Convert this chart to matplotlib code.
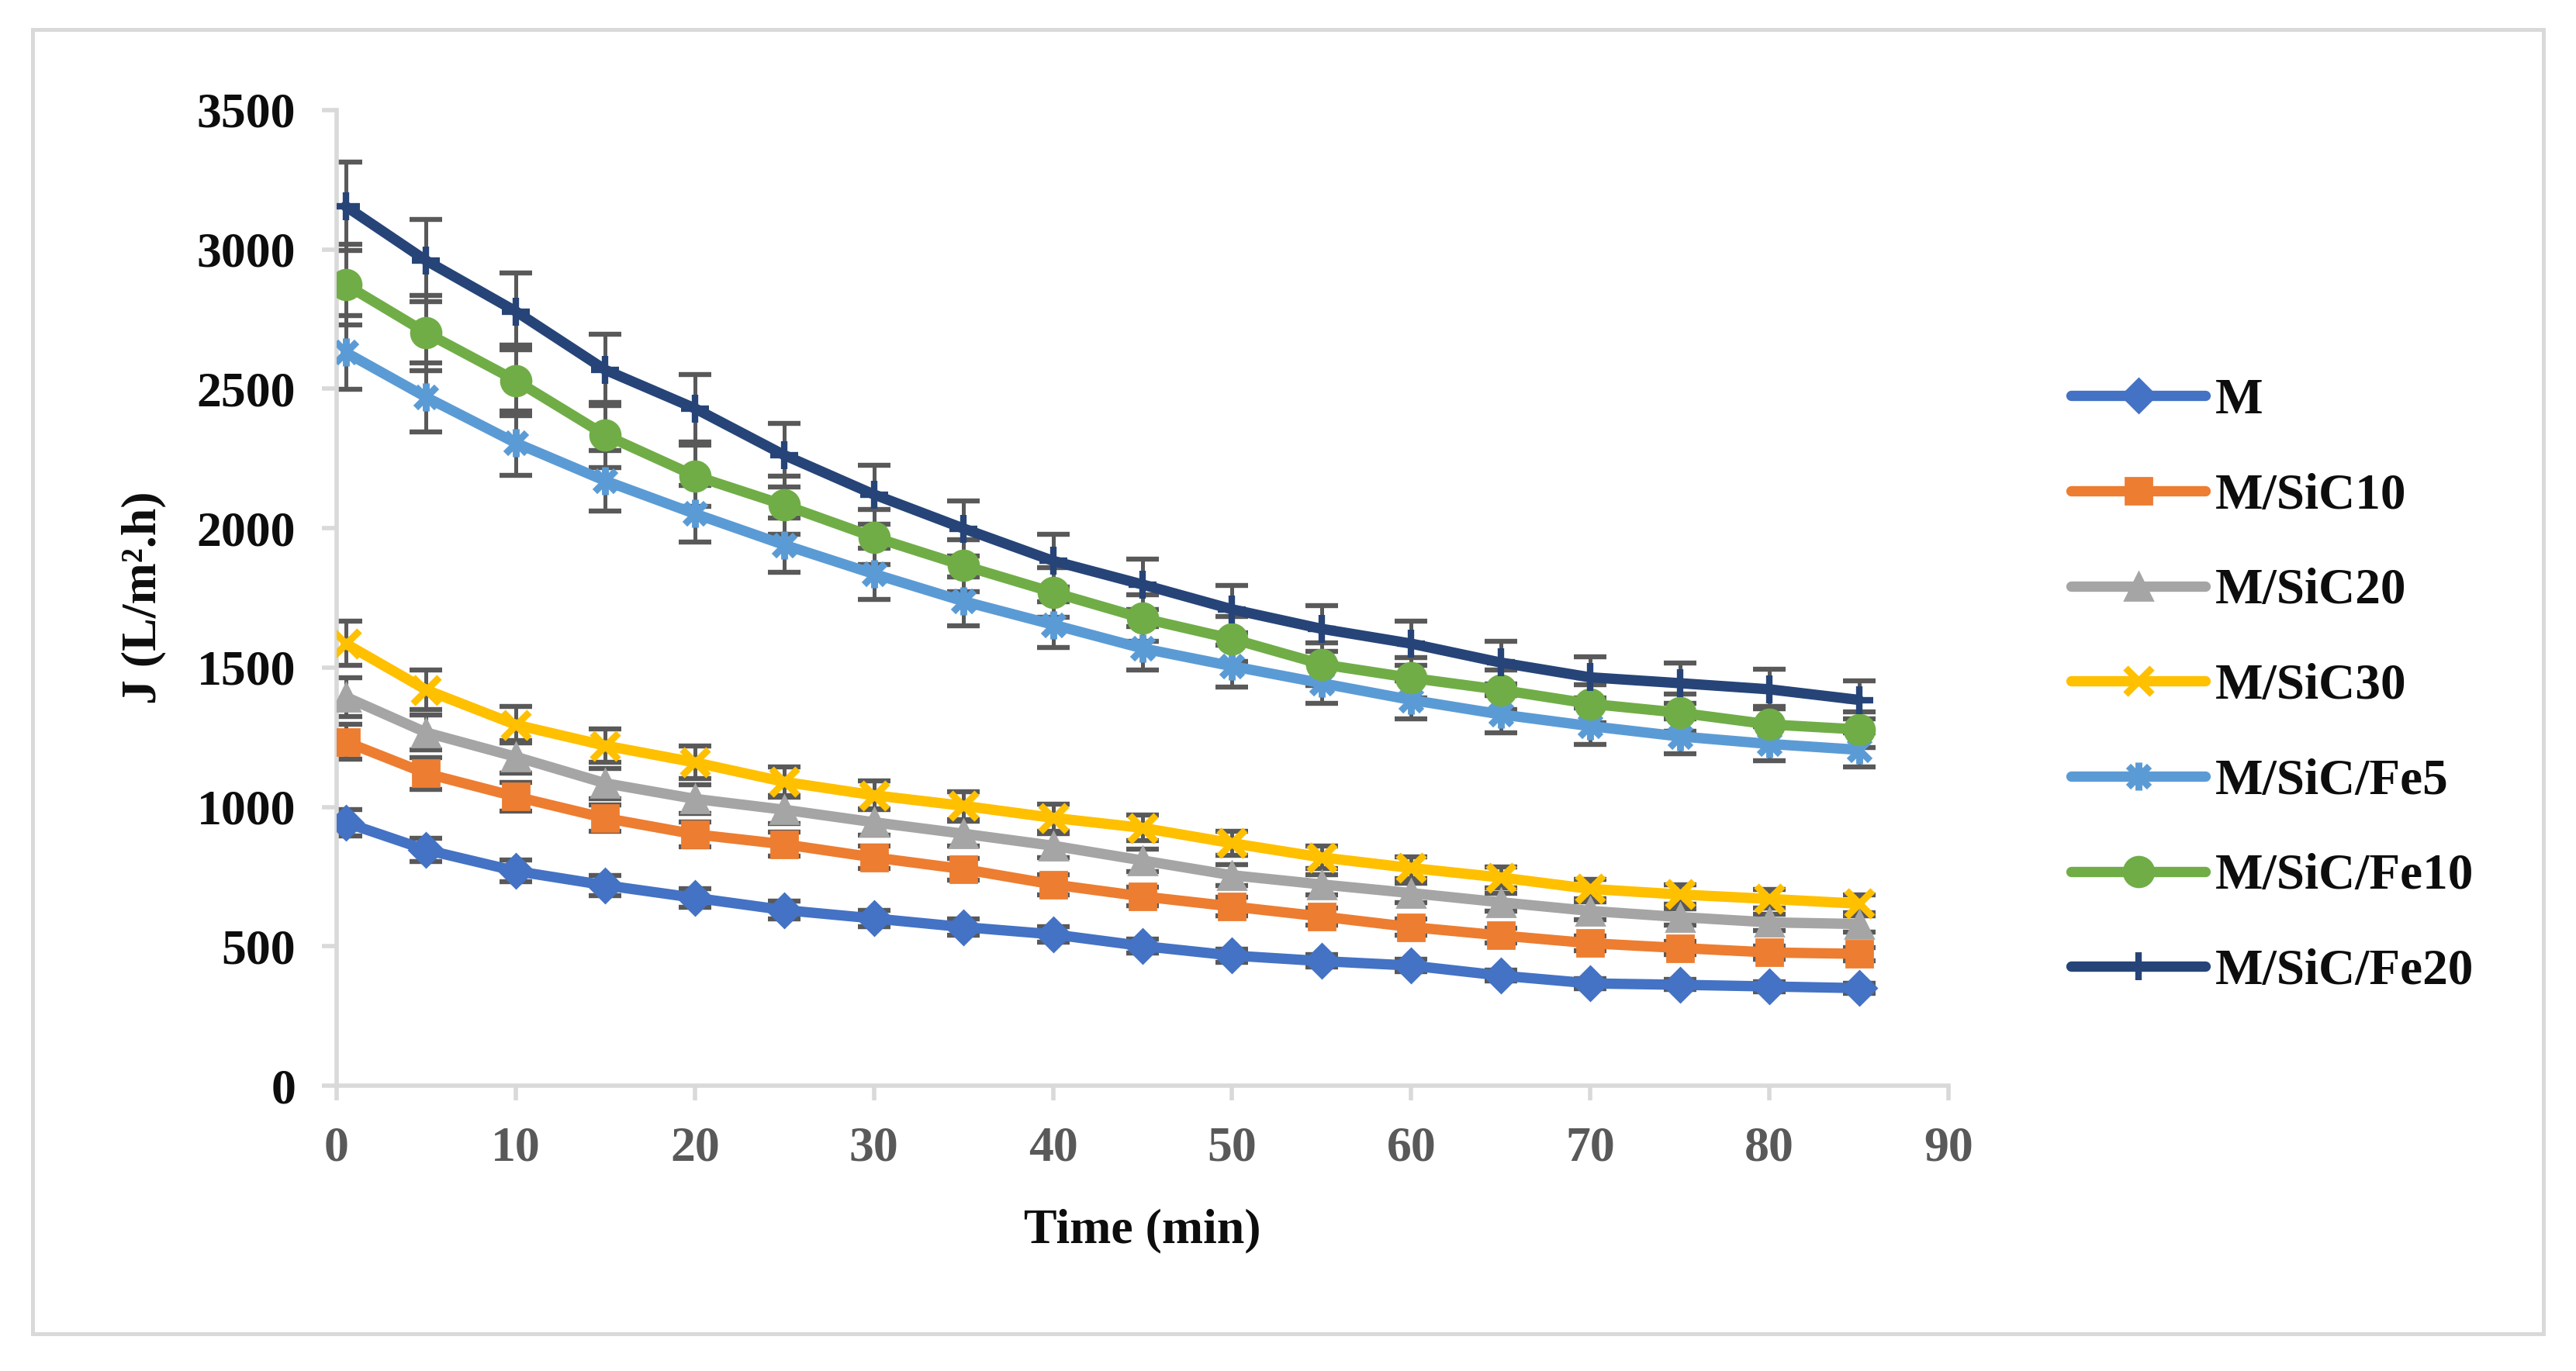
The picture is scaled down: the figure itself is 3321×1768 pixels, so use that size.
import matplotlib
matplotlib.use('Agg')
import matplotlib.pyplot as plt
from matplotlib.path import Path
from matplotlib.patches import Rectangle

# ---------------- data ----------------
time_min = [0.5, 5, 10, 15, 20, 25, 30, 35, 40, 45, 50, 55, 60, 65, 70, 75, 80, 85]
series_names = ["M", "M/SiC10", "M/SiC20", "M/SiC30", "M/SiC/Fe5", "M/SiC/Fe10", "M/SiC/Fe20"]

flux_M = [944, 846, 770, 719, 674, 630, 600, 569, 543, 501, 467, 447, 431, 395, 367, 362, 356, 350]
flux_SiC10 = [1234, 1120, 1037, 960, 902, 866, 819, 777, 722, 679, 643, 607, 569, 539, 511, 494, 478, 473]
flux_SiC20 = [1395, 1267, 1180, 1085, 1029, 990, 945, 904, 861, 808, 755, 722, 691, 658, 627, 605, 586, 580]
flux_SiC30 = [1586, 1420, 1295, 1220, 1160, 1090, 1042, 1004, 961, 925, 870, 819, 781, 747, 706, 686, 670, 653]
flux_Fe5 = [2631, 2470, 2306, 2170, 2052, 1940, 1836, 1738, 1654, 1569, 1505, 1444, 1384, 1332, 1290, 1253, 1226, 1205]
flux_Fe10 = [2874, 2701, 2530, 2334, 2188, 2083, 1968, 1866, 1770, 1677, 1603, 1512, 1463, 1420, 1370, 1338, 1296, 1278]
flux_Fe20 = [3155, 2960, 2778, 2568, 2430, 2262, 2121, 1999, 1883, 1798, 1709, 1639, 1586, 1518, 1465, 1444, 1422, 1384]

error_percent = 5  # percentage error bars

x_ticks = [0, 10, 20, 30, 40, 50, 60, 70, 80, 90]
y_ticks = [0, 500, 1000, 1500, 2000, 2500, 3000, 3500]

all_flux = [flux_M, flux_SiC10, flux_SiC20, flux_SiC30, flux_Fe5, flux_Fe10, flux_Fe20]

# ---------------- style ----------------
colors = ["#4472C4", "#ED7D31", "#A5A5A5", "#FFC000", "#5B9BD5", "#70AD47", "#264478"]

asterisk = Path(
    [(0, -1), (0, 1), (-0.75, -0.75), (0.75, 0.75), (-0.75, 0.75), (0.75, -0.75)],
    [Path.MOVETO, Path.LINETO, Path.MOVETO, Path.LINETO, Path.MOVETO, Path.LINETO],
)
marker_specs = [
    dict(marker="D", markersize=11),
    dict(marker="s", markersize=12.5),
    dict(marker="^", markersize=13),
    dict(marker="x", markersize=12, markeredgewidth=3.2),
    dict(marker=asterisk, markersize=13, markeredgewidth=3.2),
    dict(marker="o", markersize=14),
    dict(marker="+", markersize=13, markeredgewidth=3.0),
]

plt.rcParams['font.family'] = ['Liberation Serif', 'DejaVu Serif']
plt.rcParams['font.weight'] = 'bold'

FS = 23
fig = plt.figure(figsize=(16.605, 8.84), dpi=200)
ax = fig.add_axes([0.1307, 0.2081, 0.6257, 0.7116])

# outer border
fig.patches.append(Rectangle((42 / 3321, 1 - 1720 / 1768), (3279 - 42) / 3321, (1720 - 38) / 1768,
                             transform=fig.transFigure, fill=False, edgecolor="#D9D9D9",
                             linewidth=1.8, zorder=0))

for i, (name, ys) in enumerate(zip(series_names, all_flux)):
    yerr = [v * error_percent / 100.0 for v in ys]
    ax.errorbar(time_min, ys, yerr=yerr, fmt='none', ecolor="#595959",
                elinewidth=1.8, capsize=7.5, capthick=2.3, zorder=2)

for i, (name, ys) in enumerate(zip(series_names, all_flux)):
    spec = dict(marker_specs[i])
    ax.plot(time_min, ys, color=colors[i], linewidth=4.8, label=name,
            markerfacecolor=colors[i], markeredgecolor=colors[i],
            solid_capstyle='round', solid_joinstyle='round', zorder=3 + i, **spec)

ax.set_xlim(0, 90)
ax.set_ylim(0, 3500)
ax.set_xticks(x_ticks)
ax.set_yticks(y_ticks)

for s in ['top', 'right']:
    ax.spines[s].set_visible(False)
for s in ['left', 'bottom']:
    ax.spines[s].set_color("#D9D9D9")
    ax.spines[s].set_linewidth(2.0)

ax.tick_params(axis='both', which='major', direction='out', length=7, width=2.0,
               color="#D9D9D9", labelsize=FS, pad=12)
ax.tick_params(axis='x', labelcolor="#595959")
ax.tick_params(axis='y', labelcolor="#0D0D0D")
for lab in ax.get_xticklabels() + ax.get_yticklabels():
    lab.set_fontweight('bold')

ax.set_xlabel("Time (min)", fontsize=FS, fontweight='bold', color="#0D0D0D", labelpad=17)
ax.set_ylabel("J (L/m².h)", fontsize=FS, fontweight='bold', color="#0D0D0D", labelpad=14)

leg = ax.legend(loc='center left', bbox_to_anchor=(0.804, 0.4994), bbox_transform=fig.transFigure,
                frameon=False, fontsize=23.5, handlelength=2.65, handletextpad=0.2,
                labelspacing=0.96, borderpad=0, borderaxespad=0, numpoints=1)
for t in leg.get_texts():
    t.set_fontweight('bold')
    t.set_color("#0D0D0D")

fig.savefig("out.png", dpi=200)
